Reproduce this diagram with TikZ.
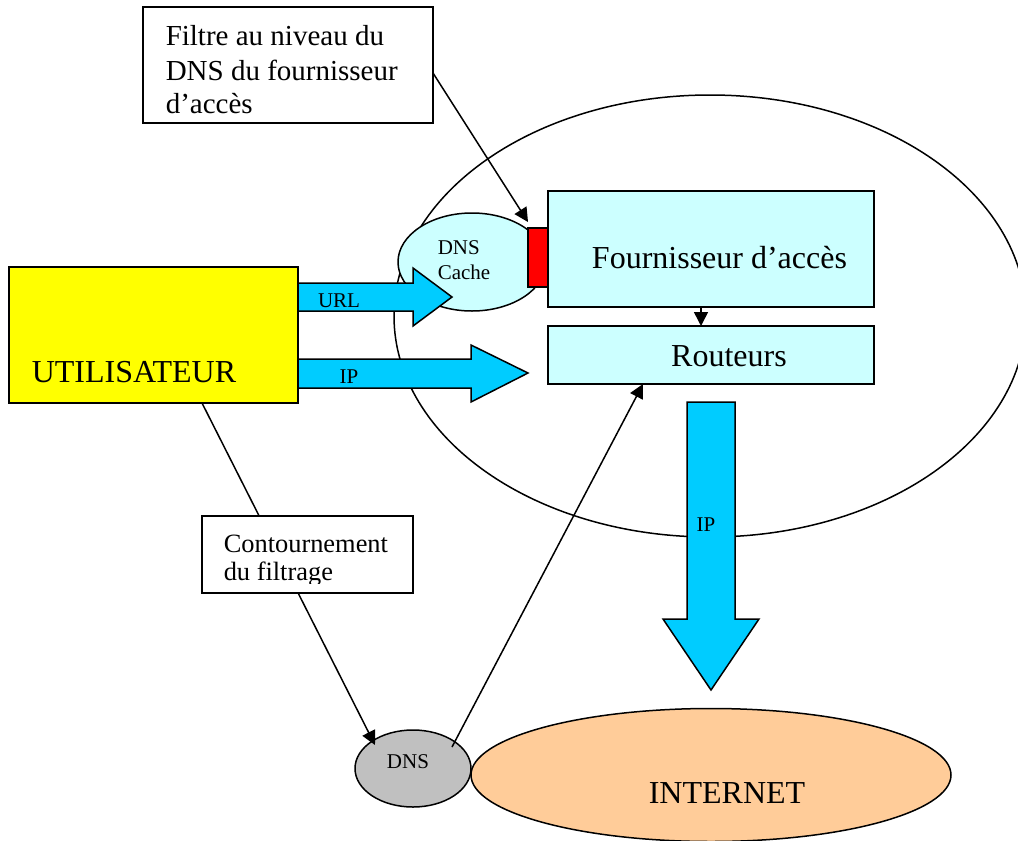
\documentclass[tikz,border=0pt]{standalone}
\usepackage{fontspec}
\setmainfont{Liberation Serif}
\usetikzlibrary{arrows.meta,calc,shapes.geometric}
\definecolor{arrowcyan}{HTML}{00CCFF}
\definecolor{lightcyan}{HTML}{CCFFFF}
\definecolor{ufill}{HTML}{FFFF00}
\definecolor{netfill}{HTML}{FFCC99}
\definecolor{dnsfill}{HTML}{C0C0C0}
\definecolor{filtred}{HTML}{FF0000}
\begin{document}
\begin{tikzpicture}[x=1pt,y=-1pt,
  line width=1.5pt,
  box/.style={draw=black,rectangle,inner sep=0pt,outer sep=0pt},
  oval/.style={draw=black,shape=ellipse,inner sep=0pt,outer sep=0pt},
  blockarrow/.style={draw=black,fill=arrowcyan,line join=miter},
  arr/.style={-{Triangle[length=14pt,width=14pt]}},
  bigtxt/.style={inner sep=0pt,font=\fontsize{32}{38}\selectfont},
  smalltxt/.style={inner sep=0pt,font=\fontsize{21}{25}\selectfont},
  filtxt/.style={inner sep=0pt,font=\fontsize{29}{34}\selectfont},
  contxt/.style={inner sep=0pt,font=\fontsize{26.4}{28}\selectfont},
]
\useasboundingbox (0,0) rectangle (1018,841);

% big provider ellipse
\node[oval,minimum width=632pt,minimum height=442pt] (isp) at (710,316) {};

% DNS cache
\node[oval,fill=lightcyan,minimum width=148pt,minimum height=98pt] (cache) at (472,262) {};
\node[smalltxt,anchor=base west] (cachetxt1) at (437,254) {DNS};
\node[smalltxt,anchor=base west] (cachetxt2) at (437,279) {Cache};

% provider boxes
\node[box,fill=lightcyan,minimum width=326pt,minimum height=116pt] (fai) at (711,249) {};
\node[bigtxt,anchor=base] (faitxt) at (719.5,268) {Fournisseur d’accès};
\node[box,fill=filtred,minimum width=20pt,minimum height=59pt] (red) at (538,257.5) {};
\node[box,fill=lightcyan,minimum width=326pt,minimum height=58pt] (rout) at (711,355) {};
\node[bigtxt,anchor=base] (routtxt) at (729,366) {Routeurs};

% DNS and INTERNET
\node[oval,fill=netfill,minimum width=480pt,minimum height=133pt] (net) at (711,775) {};
\node[bigtxt,anchor=base] (nettxt) at (727,803) {INTERNET};
\node[oval,fill=dnsfill,minimum width=116pt,minimum height=77pt] (dns) at (413,768.5) {};
\node[smalltxt,anchor=base] (dnstxt) at (408,768) {DNS};

% block arrows
\draw[blockarrow] (298,283) -- (413,283) -- (413,268) -- (452,297) -- (413,326) -- (413,311) -- (298,311) -- cycle;
\node[smalltxt,anchor=base] (urltxt) at (339,307) {URL};
\draw[blockarrow] (298,359) -- (471,359) -- (471,345) -- (528,373) -- (471,402) -- (471,388) -- (298,388) -- cycle;
\node[smalltxt,anchor=base] (iptxt) at (349,383) {IP};
\draw[blockarrow] (687,402) -- (735,402) -- (735,619) -- (759,619) -- (711,690) -- (663,619) -- (687,619) -- cycle;
\node[smalltxt,anchor=base] (ipdowntxt) at (706,531) {IP};

% user
\node[box,fill=ufill,minimum width=289pt,minimum height=136pt] (user) at (153.5,335) {};
\node[bigtxt,anchor=base west] (usertxt) at (31,382) {UTILISATEUR};

% connectors
\draw[arr] ([xshift=-10pt]fai.south) -- ([xshift=-10pt]rout.north);
\draw[arr] ([xshift=48.5pt]user.south) -- ($(dns.center)+(-38,-23.5)$);
\draw[arr] ($(dns.center)+(39,-21.5)$) -- ([xshift=95pt]rout.south west);

% Contournement box
\node[box,fill=white,minimum width=211pt,minimum height=77pt] (cont) at (307.5,554.5) {};
\begin{scope}
\clip (202,516) rectangle (413,583);
\node[contxt,anchor=base west] (conttxt1) at (223,552) {Contournement};
\node[contxt,anchor=base west] (conttxt2) at (223,580) {du filtrage};
\end{scope}

% Filtre box
\node[box,fill=white,minimum width=290pt,minimum height=116pt] (filtre) at (288,65) {};
\node[filtxt,anchor=base west] (filtxt1) at (165,45) {Filtre au niveau du};
\node[filtxt,anchor=base west] (filtxt2) at (165,80) {DNS du fournisseur};
\node[filtxt,anchor=base west] (filtxt3) at (165,113) {d’accès};
\draw[arr] ([yshift=-8pt]filtre.east) -- ([yshift=6pt]red.north west);
\end{tikzpicture}
\end{document}
